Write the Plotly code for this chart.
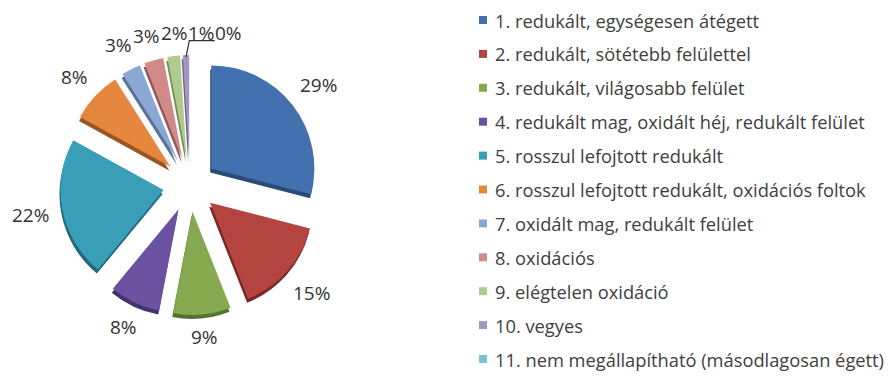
import math
import plotly.graph_objects as go

# Distribution of firing categories (percent of sherds)
categories = [
    "1. redukált, egységesen átégett",
    "2. redukált, sötétebb felülettel",
    "3. redukált, világosabb felület",
    "4. redukált mag, oxidált héj, redukált felület",
    "5. rosszul lefojtott redukált",
    "6. rosszul lefojtott redukált, oxidációs foltok",
    "7. oxidált mag, redukált felület",
    "8. oxidációs",
    "9. elégtelen oxidáció",
    "10. vegyes",
    "11. nem megállapítható (másodlagosan égett)",
]
percents = [29, 15, 9, 8, 22, 8, 3, 3, 2, 1, 0]

colors = ["#4371B0", "#B3443F", "#86A94F", "#6A52A0", "#3A9EB8", "#E5873E",
          "#8BA7D3", "#D28A89", "#AFCB8D", "#A596C0", "#7CC2D6"]
edge_colors = ["#2A4A78", "#76282A", "#56722F", "#44336B", "#21697B", "#9A5522",
               "#5A7299", "#93595A", "#738C56", "#6B5F85", "#4C8797"]

W, H = 888, 376
cx, cy, half = 190, 185, 130      # pie centre and half-extent in pixels
pull = 0.26
dx, dy = -1, 4                    # offset of the dark slice edges
label_font = dict(family="Open Sans", size=19, color="#333333")
legend_font = dict(family="Open Sans", size=18.3, color="#404040")


def dom(x0, y0):
    return dict(x=[(x0 - half) / W, (x0 + half) / W],
                y=[(H - (y0 + half)) / H, (H - (y0 - half)) / H])


def px(x):
    return x / W


def py(y):
    return (H - y) / H


fig = go.Figure()

# darker copy underneath gives the slices a thickness
fig.add_trace(go.Pie(
    values=percents, labels=categories, sort=False, direction="clockwise",
    rotation=0, pull=pull, domain=dom(cx + dx, cy + dy), automargin=False,
    marker=dict(colors=edge_colors, line=dict(width=0)),
    textinfo="none", hoverinfo="skip", showlegend=False,
))

fig.add_trace(go.Pie(
    values=percents, labels=categories, sort=False, direction="clockwise",
    rotation=0, pull=pull, domain=dom(cx, cy), automargin=False,
    marker=dict(colors=colors, line=dict(width=0)),
    textinfo="none", showlegend=False,
))

# percentage labels placed outside each slice, along its mid angle
total = sum(percents)
outer = half + 12                  # distance of the label boxes from the centre
fs = label_font["size"]
boxes = []
cum = 0
for v in percents:
    mid = (cum + v / 2) / total * 2 * math.pi
    cum += v
    ux, uy = math.sin(mid), -math.cos(mid)
    text = f"{v}%"
    w = (len(text) - 1) * 0.57 * fs + 0.82 * fs
    h = fs * 1.05
    ext = abs(ux) * w / 2 + abs(uy) * h / 2
    bx = cx + (outer + ext) * ux
    by = cy + (outer + ext) * uy
    boxes.append(dict(text=text, x=bx, y=by, w=w, h=h, ux=ux, uy=uy))

# spread crowded labels sideways so they sit next to each other
for i in range(1, len(boxes)):
    a, b = boxes[i - 1], boxes[i]
    if (abs(a["y"] - b["y"]) < (a["h"] + b["h"]) / 2
            and abs(b["x"] - a["x"]) < (a["w"] + b["w"]) / 2):
        b["x"] = a["x"] + (a["w"] + b["w"]) / 2 + 1

for b in boxes:
    fig.add_annotation(text=b["text"], xref="paper", yref="paper",
                       x=px(b["x"]), y=py(b["y"]), xanchor="center", yanchor="middle",
                       showarrow=False, font=label_font)

# leader line for the thinnest visible slice, whose label was shifted
lead = max(i for i, v in enumerate(percents) if v > 0)
b = boxes[lead]
tip_x = cx + (half - 2) * b["ux"]
tip_y = cy + (half - 2) * b["uy"]
ul_y = b["y"] + b["h"] / 2 - 2
x_left = b["x"] - b["w"] / 2 + 1
fig.add_shape(type="path", xref="paper", yref="paper",
              path=(f"M {px(tip_x)},{py(tip_y)} L {px(x_left)},{py(ul_y)} "
                    f"L {px(b['x'] + b['w'] / 2)},{py(ul_y)}"),
              line=dict(color="#333333", width=1.2))

# legend drawn as swatches + text
y_first, step = 20, 33.9
x_sw, sw = 483, 8
for i, (name, col) in enumerate(zip(categories, colors)):
    yc = y_first + i * step
    fig.add_shape(type="rect", xref="paper", yref="paper",
                  x0=px(x_sw - sw / 2), x1=px(x_sw + sw / 2),
                  y0=py(yc + sw / 2), y1=py(yc - sw / 2),
                  fillcolor=col, line=dict(width=0))
    fig.add_annotation(text=name, xref="paper", yref="paper",
                       x=px(493), y=py(yc), xanchor="left", yanchor="middle",
                       showarrow=False, font=legend_font)

fig.update_layout(
    width=W, height=H,
    margin=dict(l=0, r=0, t=0, b=0, autoexpand=False),
    paper_bgcolor="white", plot_bgcolor="white",
)

fig.write_html("out.html")
